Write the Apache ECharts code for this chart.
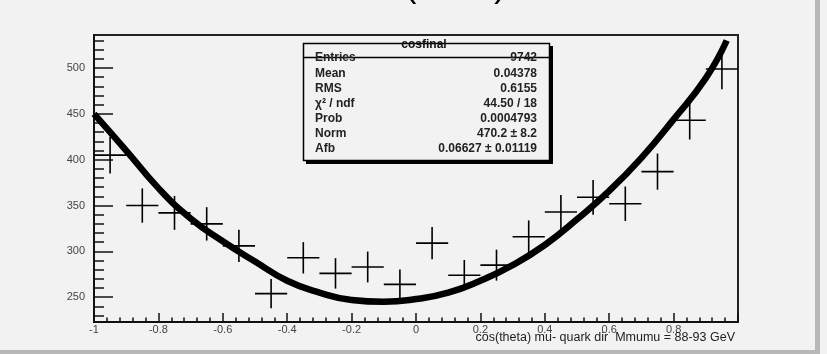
<!DOCTYPE html>
<html>
<head>
<meta charset="utf-8">
<script src="https://cdn.jsdelivr.net/npm/echarts@6/dist/echarts.min.js"></script>
<style>
html,body{margin:0;padding:0;background:#f2f2f2;}
#c{width:827px;height:354px;}
</style>
</head>
<body>
<div id="c"></div>
<script>
// ---- data ----
const binCenters = [-0.95,-0.85,-0.75,-0.65,-0.55,-0.45,-0.35,-0.25,-0.15,-0.05,0.05,0.15,0.25,0.35,0.45,0.55,0.65,0.75,0.85,0.95];
const binCounts  = [405,350,342,330,306,254,293,276,283,264,309,274,285,316,343,359,352,387,443,499];
const binErrors  = [20.1,18.7,18.5,18.2,17.5,15.9,17.1,16.6,16.8,16.3,17.6,16.6,16.9,17.8,18.5,19.0,18.8,19.7,21.0,22.3];
const binWidth = 0.1;

const fitX = [-1.0,-0.9,-0.8,-0.7,-0.6,-0.5,-0.4,-0.3,-0.2,-0.1,0.0,0.1,0.2,0.3,0.4,0.5,0.6,0.7,0.8,0.9,0.965];
const fitY = [450,410,369,336,311,289,268,255,247,245,248,255,268,285,307,335,366,402,444,489,530];

const xTickLabels = ['-1','-0.8','-0.6','-0.4','-0.2','0','0.2','0.4','0.6','0.8',''];
const yMajor = [250,300,350,400,450,500];
const yMinor = [230,240,260,270,280,290,310,320,330,340,360,370,380,390,410,420,430,440,460,470,480,490,510,520,530];

const titleText = 'cos(theta)';
const xAxisTitle = 'cos(theta) mu- quark dir  Mmumu = 88-93 GeV';
const statsTitle = 'cosfinal';
const statsLabels = ['Entries','Mean','RMS','\u03c7\u00b2 / ndf','Prob','Norm','Afb'];
const statsValues = ['9742','0.04378','0.6155','44.50 / 18','0.0004793','470.2 \u00b1 8.2','0.06627 \u00b1 0.01119'];

// ---- chart ----
const chart = echarts.init(document.getElementById('c'), null, {renderer:'canvas'});
const FONT = 'Liberation Sans, Arial, sans-serif';

const crossData = binCenters.map((x,i)=>[x, binCounts[i], binErrors[i]]);
const fitData = fitX.map((x,i)=>[x, fitY[i]]);

const statRowsY = [58,73.5,89,104,119,134,149];
const statsGraphics = [];
statsGraphics.push({type:'rect', shape:{x:306,y:46,width:247,height:118}, style:{fill:'#000'}, z:100});
statsGraphics.push({type:'rect', shape:{x:303.5,y:43.5,width:246,height:117}, style:{fill:'#f2f2f2', stroke:'#000', lineWidth:1.5}, z:101});
statsGraphics.push({type:'line', shape:{x1:303.5,y1:57.5,x2:549.5,y2:57.5}, style:{stroke:'#000', lineWidth:1.5}, z:102});
statsGraphics.push({type:'text', x:424, y:45, style:{text:statsTitle, font:'bold 12px '+FONT, fill:'#111', align:'center', verticalAlign:'middle'}, z:103});
statsLabels.forEach((t,i)=>{
  statsGraphics.push({type:'text', x:315, y:statRowsY[i], style:{text:t, font:'bold 12px '+FONT, fill:'#222', align:'left', verticalAlign:'middle'}, z:103});
  statsGraphics.push({type:'text', x:537, y:statRowsY[i], style:{text:statsValues[i], font:'bold 12px '+FONT, fill:'#222', align:'right', verticalAlign:'middle'}, z:103});
});

const option = {
  backgroundColor:'#f2f2f2',
  animation:false,
  grid:{left:94, right:89, top:35, bottom:32, show:true, borderColor:'#222', borderWidth:2, backgroundColor:'transparent', outerBoundsMode:'none'},
  xAxis:{
    type:'value', min:-1, max:1, interval:0.2,
    axisLine:{show:true, onZero:false, lineStyle:{color:'#111', width:2}},
    axisTick:{show:true, inside:true, length:9, lineStyle:{color:'#111', width:1.5}},
    minorTick:{show:true, splitNumber:5, length:4.5, lineStyle:{color:'#111', width:1.5}},
    axisLabel:{show:true, margin:2, color:'#444', fontFamily:FONT, fontSize:11,
      formatter:function(v){ const i = Math.round((v+1)/0.2); return xTickLabels[i] !== undefined ? xTickLabels[i] : ''; }},
    splitLine:{show:false}
  },
  yAxis:[
    {type:'value', min:223, max:536, position:'left',
      axisLine:{show:true, onZero:false, lineStyle:{color:'#111', width:2}},
      axisTick:{show:true, inside:true, length:19, customValues:yMajor, lineStyle:{color:'#111', width:1.5}},
      axisLabel:{show:true, margin:9, customValues:yMajor, color:'#444', fontFamily:FONT, fontSize:11},
      splitLine:{show:false}},
    {type:'value', min:223, max:536, position:'left',
      axisLine:{show:false, onZero:false},
      axisTick:{show:true, inside:true, length:10, customValues:yMinor, lineStyle:{color:'#111', width:1.5}},
      axisLabel:{show:false},
      splitLine:{show:false}}
  ],
  series:[
    {type:'line', data:fitData, smooth:true, showSymbol:false, symbol:'none', clip:true,
      lineStyle:{color:'#000', width:6.5}, z:3},
    {type:'custom', data:crossData, clip:true, z:4,
      renderItem:function(params, api){
        const x = api.value(0), y = api.value(1), e = api.value(2);
        const c = api.coord([x, y]);
        const l = api.coord([x - binWidth/2, y]);
        const r = api.coord([x + binWidth/2, y]);
        const t = api.coord([x, y + e]);
        const b = api.coord([x, y - e]);
        return {type:'group', children:[
          {type:'line', shape:{x1:l[0], y1:c[1], x2:r[0], y2:c[1]}, style:{stroke:'#000', lineWidth:1.6}},
          {type:'line', shape:{x1:c[0], y1:t[1], x2:c[0], y2:b[1]}, style:{stroke:'#000', lineWidth:1.6}}
        ]};
      }}
  ],
  graphic:[
    {type:'rect', shape:{x:815,y:0,width:5,height:354}, style:{fill:'#b8b8b8'}, z:50},
    {type:'rect', shape:{x:0,y:350,width:820,height:4}, style:{fill:'#b8b8b8'}, z:50},
    {type:'text', x:428, y:-13, style:{text:titleText, font:'35px '+FONT, fill:'#000', align:'center', verticalAlign:'middle'}, z:60},
    {type:'text', x:735, y:338, style:{text:xAxisTitle, font:'12.5px '+FONT, fill:'#222', align:'right', verticalAlign:'middle'}, z:60}
  ].concat(statsGraphics)
};
chart.setOption(option);
</script>
</body>
</html>
